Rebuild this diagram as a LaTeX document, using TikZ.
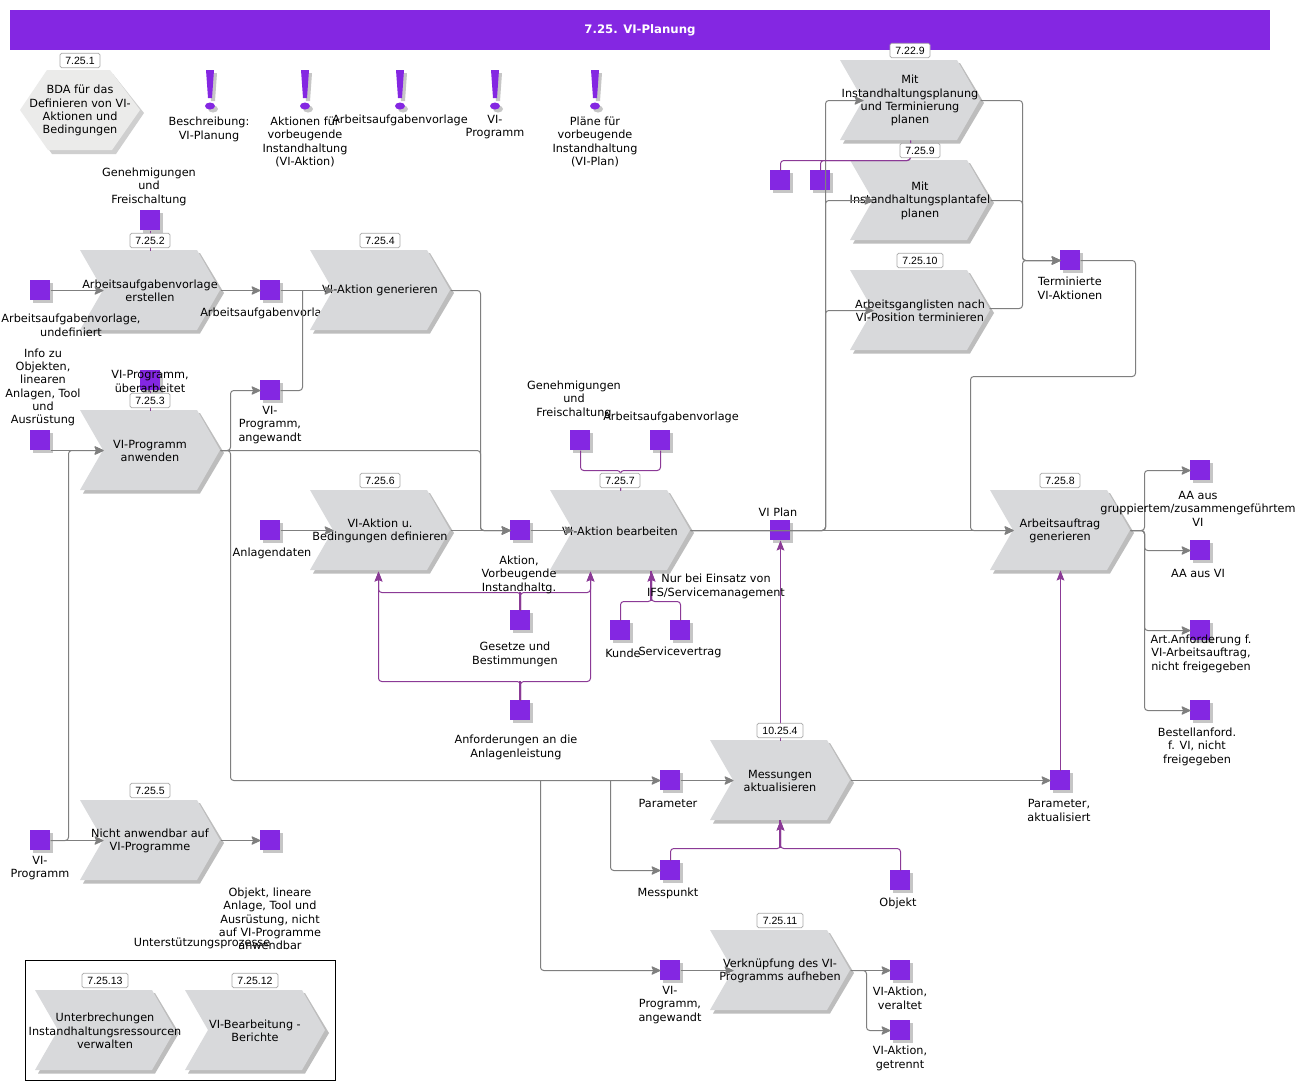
\documentclass[tikz,border=0pt]{standalone}
\usepackage{fontspec}
\setmainfont{DejaVu Sans}
\newfontfamily\tagfont{Liberation Sans}
\usetikzlibrary{arrows.meta,shadows}
\definecolor{vio}{HTML}{8427E2}
\definecolor{chevgray}{HTML}{D8D9DB}
\definecolor{chevshade}{HTML}{BDBDBD}
\definecolor{sqshade}{HTML}{C6C6C6}
\definecolor{hexgray}{HTML}{EBEBEA}
\definecolor{hexshade}{HTML}{CFCFCF}
\definecolor{flowgray}{HTML}{7F7F7F}
\definecolor{plum}{HTML}{8B3A96}
\definecolor{tagline}{HTML}{A8A8A8}
\tikzset{
  txt/.style={font=\fontsize{8.45}{10}\selectfont,align=center,inner sep=0pt,text=black,yshift=-0.6pt},
  chevtext/.style={txt},
  lab/.style={txt},
  sqbox/.style={rectangle,fill=vio,minimum size=15pt,inner sep=0pt,outer sep=0pt,
     general shadow={shadow xshift=2.25pt,shadow yshift=-2.25pt,fill=sqshade}},
  tagbox/.style={rectangle,rounded corners=1.2pt,draw=tagline,line width=0.6pt,fill=white,
     minimum height=10.8pt,inner sep=0pt,font=\tagfont\fontsize{7.9}{9}\selectfont},
  flow/.style={draw=flowgray,line width=0.75pt,rounded corners=2.4pt,
     -{Stealth[length=7.5pt,width=6.8pt,inset=1.4pt,round=false,fill=flowgray]}},
  flowplain/.style={draw=flowgray,line width=0.75pt,rounded corners=2.4pt},
  pl/.style={draw=plum,line width=0.75pt,rounded corners=2.4pt},
  plar/.style={pl,-{Stealth[length=7.5pt,width=5.8pt,inset=1.2pt,fill=plum]}},
  stub/.style={draw=plum,line width=1.5pt},
}
% name, left, top, text
\newcommand{\chev}[4]{%
  \fill[chevshade] ({#2+3},{#3+3}) -- ({#2+120},{#3+3}) -- ({#2+144},{#3+43}) -- ({#2+120},{#3+83.5}) -- ({#2+3},{#3+83.5}) -- ({#2+26},{#3+43}) -- cycle;
  \fill[chevgray] (#2,#3) -- ({#2+117},#3) -- ({#2+140},{#3+40}) -- ({#2+117},{#3+80}) -- (#2,{#3+80}) -- ({#2+23},{#3+40}) -- cycle;
  \node[chevtext] (#1) at ({#2+70},{#3+40}) {#4};
  \coordinate (#1-in) at ({#2+23},{#3+40});
  \coordinate (#1-out) at ({#2+140},{#3+40});
  \coordinate (#1-top) at ({#2+70},#3);
  \coordinate (#1-bot) at ({#2+70},{#3+80});
}
\newcommand{\sq}[3]{\node[sqbox] (#1) at (#2,#3) {};}
\newcommand{\lbl}[4]{\node[lab] (#1) at (#2,#3) {#4};}
\newcommand{\tagb}[5]{\node[tagbox,minimum width={#4*0.75pt}] (#1) at (#2,#3) {#5};}
\newcommand{\excl}[1]{%
  \fill[sqshade] ({#1-1},73) -- ({#1+7},73) -- ({#1+5},101) -- ({#1+1},101) -- cycle;
  \fill[sqshade] ({#1+3},109) ellipse [x radius=5,y radius=3.5];
  \fill[vio] ({#1-4},70) -- ({#1+4},70) -- ({#1+2},98) -- ({#1-2},98) -- cycle;
  \fill[vio] (#1,106) ellipse [x radius=5,y radius=3.5];
}
\begin{document}
\begin{tikzpicture}[x=0.75pt,y=-0.75pt]
\useasboundingbox (0,0) rectangle (1307,1090);
\fill[white] (0,0) rectangle (1307,1090);
% title
\node[rectangle,fill=vio,minimum width=945pt,minimum height=30pt,inner sep=0pt,text=white,
  font=\bfseries\fontsize{8.8}{11}\selectfont] (title) at (640,30) {\raisebox{-0.6pt}{7.25. VI-Planung}};
% hexagon
\fill[hexshade] (24,114) -- (51,74) -- (113,74) -- (144,113) -- (116,154) -- (52,154) -- cycle;
\fill[hexgray] (20,110) -- (47,70) -- (110,70) -- (140,110) -- (112,150) -- (48,150) -- cycle;
\node[txt] (hex) at (80,110) {BDA für das\\Definieren von VI-\\Aktionen und\\Bedingungen};
% exclamation marks
\excl{210}\excl{305}\excl{400}\excl{495}\excl{595}
% support frame
\draw[black,line width=0.75pt] (25.5,960.5) rectangle (335.5,1080.5);
% chevrons
\chev{c2}{80}{250}{Arbeitsaufgabenvorlage\\erstellen}
% this label lies over the chevron on its left and behind the one on its right
\lbl{l-av1}{268}{313}{Arbeitsaufgabenvorlage}
\chev{c4}{310}{250}{VI-Aktion generieren}
\chev{c3}{80}{410}{VI-Programm\\anwenden}
\chev{c6}{310}{490}{VI-Aktion u.\\Bedingungen definieren}
\chev{c7}{550}{490}{VI-Aktion bearbeiten}
\chev{c229}{840}{60}{Mit\\Instandhaltungsplanung\\und Terminierung\\planen}
\chev{c9}{850}{160}{Mit\\Instandhaltungsplantafel\\planen}
\chev{c10}{850}{270}{Arbeitsganglisten nach\\VI-Position terminieren}
\chev{c8}{990}{490}{Arbeitsauftrag\\generieren}
\chev{c104}{710}{740}{Messungen\\aktualisieren}
\chev{c11}{710}{930}{Verknüpfung des VI-\\Programms aufheben}
\chev{c5}{80}{800}{Nicht anwendbar auf\\VI-Programme}
\chev{c13}{35}{990}{Unterbrechungen\\Instandhaltungsressourcen\\verwalten}
\chev{c12}{185}{990}{VI-Bearbeitung -\\Berichte}
% squares
\sq{sGen}{150}{220}
\sq{sAvU}{40}{290}
\sq{sAv}{270}{290}
\sq{sVip}{150}{380}
\sq{sInfo}{40}{440}
\sq{sAng}{270}{390}
\sq{sAnl}{270}{530}
\sq{sAkt}{520}{530}
\sq{sGen2}{580}{440}
\sq{sAv2}{660}{440}
\sq{sPlan}{780}{530}
\sq{sGes}{520}{620}
\sq{sKun}{620}{630}
\sq{sSer}{680}{630}
\sq{sAnf}{520}{710}
\sq{sPar}{670}{780}
\sq{sMes}{670}{870}
\sq{sObj}{900}{880}
\sq{sPak}{1060}{780}
\sq{sAng2}{670}{970}
\sq{sVer}{900}{970}
\sq{sGet}{900}{1030}
\sq{sVi}{40}{840}
\sq{sNo}{270}{840}
\sq{sA}{780}{180}
\sq{sB}{820}{180}
\sq{sTer}{1070}{260}
\sq{sGr}{1200}{470}
\sq{sAa}{1200}{550}
\sq{sArt}{1200}{630}
\sq{sBes}{1200}{710}
% junctions
\coordinate (jA) at (230,450);
\coordinate (jC) at (540,780);
\coordinate (jD) at (610,780);
\coordinate (jE) at (480,530);
\coordinate (jL) at (68,840);
\coordinate (jV) at (825,530);
\coordinate (jS) at (970,530);
\coordinate (jT) at (1135,376);
\coordinate (jR) at (1022,260);
\coordinate (jO) at (1144,530);
\coordinate (jW) at (866,970);
\coordinate (jX) at (302,290);
\coordinate (c10o) at (989,308);
\coordinate (jP1) at (910,160);
\coordinate (jP2) at (620,470);
\coordinate (jG) at (520,592);
\coordinate (jH) at (520,681);
\coordinate (jK) at (651,601);
\coordinate (jM) at (780,848);
\coordinate (a6) at (378,571);
\coordinate (a7) at (590,571);
\coordinate (a7b) at (651,571);
% thicker purple stubs where two routes share a run
\draw[stub] (sGes.north) -- (jG);
\draw[stub] (sAnf.north) -- (jH);
\draw[stub] (jK) -- (a7b);
\draw[stub] (jM) -- (c104-bot);
\begin{scope}[transform canvas={shift={(0.375pt,-0.375pt)}}]
% grey flows
\draw[flow] (sAvU.east) -- (c2-in);
\draw[flow] (c2-out) -- (sAv.west);
\draw[flow] (sAv.east) -- (c4-in);
\draw[flowplain] (sAng.east) -| (jX);
\draw[flow] (c3-out) -- (jA) |- (sAng.west);
\draw[flow] (c3-out) -- (jA) |- (sPar.west);
\draw[flow] (jC) |- (sAng2.west);
\draw[flow] (jD) |- (sMes.west);
\draw[flow] (c3-out) -| (jE) -- (sAkt.west);
\draw[flow] (c4-out) -| (jE) -- (sAkt.west);
\draw[flow] (c6-out) -- (sAkt.west);
\draw[flow] (sAnl.east) -- (c6-in);
\draw[flow] (sAkt.east) -- (c7-in);
\draw[flow] (sInfo.south east) -- (c3-in);
\draw[flow] (sVi.east) -- (jL) |- (c3-in);
\draw[flow] (sVi.east) -- (c5-in);
\draw[flow] (c5-out) -- (sNo.west);
\draw[flow] (c7-out) -- (c8-in);
\draw[flow] (c7-out) -- (jV) |- (c229-in);
\draw[flow] (c7-out) -- (jV) |- (c9-in);
\draw[flow] (c7-out) -- (jV) |- (c10-in);
\draw[flow] (c229-out) -| (jR) -- (sTer.west);
\draw[flow] (c9-out) -| (jR) -- (sTer.west);
\draw[flow] (c10o) -| (jR) -- (sTer.west);
\draw[flow] (sTer.east) -| (jT) -| (jS) -- (c8-in);
\draw[flow] (c8-out) -- (jO) |- (sGr.west);
\draw[flow] (c8-out) -- (jO) |- (sAa.west);
\draw[flow] (c8-out) -- (jO) |- (sArt.west);
\draw[flow] (c8-out) -- (jO) |- (sBes.west);
\draw[flow] (sPar.east) -- (c104-in);
\draw[flow] (c104-out) -- (sPak.west);
\draw[flow] (sAng2.east) -- (c11-in);
\draw[flow] (c11-out) -- (sVer.west);
\draw[flow] (c11-out) -- (jW) |- (sGet.west);
% purple flows
\draw[pl] (sGen.south) -- (c2-top);
\draw[pl] (sVip.south) -- (c3-top);
\draw[pl] (sA.north) |- (jP1) -- (c229-bot);
\draw[pl] (sB.north) |- (jP1) -- (c229-bot);
\draw[pl] (sGen2.south) |- (jP2) -- (c7-top);
\draw[pl] (sAv2.south) |- (jP2) -- (c7-top);
\draw[plar] (sGes.north) -- (jG) -| (a7);
\draw[plar] (sGes.north) -- (jG) -| (a6);
\draw[plar] (sAnf.north) -- (jH) -| (a7);
\draw[plar] (sAnf.north) -- (jH) -| (a6);
\draw[plar] (sKun.north) |- (jK) -- (a7b);
\draw[plar] (sSer.north) |- (jK) -- (a7b);
\draw[plar] (sMes.north) |- (jM) -- (c104-bot);
\draw[plar] (sObj.north) |- (jM) -- (c104-bot);
\draw[plar] (c104-top) -- (sPlan.south);
\draw[plar] (sPak.north) -- (c8-bot);
\end{scope}
% reference tags
\tagb{t1}{80}{60.5}{40}{7.25.1}
\tagb{t2}{150}{240.5}{40}{7.25.2}
\tagb{t4}{380}{240.5}{40}{7.25.4}
\tagb{t3}{150}{400.5}{40}{7.25.3}
\tagb{t6}{380}{480.5}{40}{7.25.6}
\tagb{t7}{620}{480.5}{40}{7.25.7}
\tagb{t229}{910}{50.5}{40}{7.22.9}
\tagb{t9}{920}{150.5}{40}{7.25.9}
\tagb{t10}{920}{260.5}{46}{7.25.10}
\tagb{t8}{1060}{480.5}{40}{7.25.8}
\tagb{t104}{780}{730.5}{46}{10.25.4}
\tagb{t11}{780}{920.5}{46}{7.25.11}
\tagb{t5}{150}{790.5}{40}{7.25.5}
\tagb{t13}{105}{980.5}{46}{7.25.13}
\tagb{t12}{255}{980.5}{46}{7.25.12}
% labels
\lbl{l1}{209}{128.5}{Beschreibung:\\VI-Planung}
\lbl{l2}{305}{141}{Aktionen für\\vorbeugende\\Instandhaltung\\(VI-Aktion)}
\lbl{l3}{400}{120}{Arbeitsaufgabenvorlage}
\lbl{l4}{495}{126.5}{VI-\\Programm}
\lbl{l5}{595}{141}{Pläne für\\vorbeugende\\Instandhaltung\\(VI-Plan)}
\lbl{lGen}{149}{186}{Genehmigungen\\und\\Freischaltung}
\lbl{lAvU}{71}{324.5}{Arbeitsaufgabenvorlage,\\undefiniert}
\lbl{lVip}{150}{380.5}{VI-Programm,\\überarbeitet}
\lbl{lInfo}{43}{386.5}{Info zu\\Objekten,\\linearen\\Anlagen, Tool\\und\\Ausrüstung}
\lbl{lAng}{270}{424}{VI-\\Programm,\\angewandt}
\lbl{lAnl}{272}{553}{Anlagendaten}
\lbl{lAkt}{519}{574}{Aktion,\\Vorbeugende\\Instandhaltg.}
\lbl{lGen2}{574}{399}{Genehmigungen\\und\\Freischaltung}
\lbl{lAv2}{671}{417}{Arbeitsaufgabenvorlage}
\lbl{lPlan}{778}{511}{VI Plan}
\lbl{lGes}{515}{653.5}{Gesetze und\\Bestimmungen}
\lbl{lKun}{623}{652}{Kunde}
\lbl{lSer}{680}{652}{Servicevertrag}
\lbl{lNur}{716}{585.5}{Nur bei Einsatz von\\IFS/Servicemanagement}
\lbl{lAnf}{516}{746.5}{Anforderungen an die\\Anlagenleistung}
\lbl{lPar}{668}{803}{Parameter}
\lbl{lMes}{668}{893}{Messpunkt}
\lbl{lObj}{898}{903}{Objekt}
\lbl{lPak}{1059}{809.5}{Parameter,\\aktualisiert}
\lbl{lAng2}{670}{1004}{VI-\\Programm,\\angewandt}
\lbl{lVer}{900}{997.5}{VI-Aktion,\\veraltet}
\lbl{lGet}{900}{1057.5}{VI-Aktion,\\getrennt}
\lbl{lVi}{40}{867.5}{VI-\\Programm}
\lbl{lNo}{270}{918}{Objekt, lineare\\Anlage, Tool und\\Ausrüstung, nicht\\auf VI-Programme\\anwendbar}
\lbl{lUnt}{202}{943}{Unterstützungsprozesse}
\lbl{lTer}{1070}{287.5}{Terminierte\\VI-Aktionen}
\lbl{lGr}{1198}{508}{AA aus\\gruppiertem/zusammengeführtem\\VI}
\lbl{lAa}{1198}{573}{AA aus VI}
\lbl{lArt}{1201}{653}{Art.Anforderung f.\\VI-Arbeitsauftrag,\\nicht freigegeben}
\lbl{lBes}{1197}{746}{Bestellanford.\\f. VI, nicht\\freigegeben}
\end{tikzpicture}
\end{document}
